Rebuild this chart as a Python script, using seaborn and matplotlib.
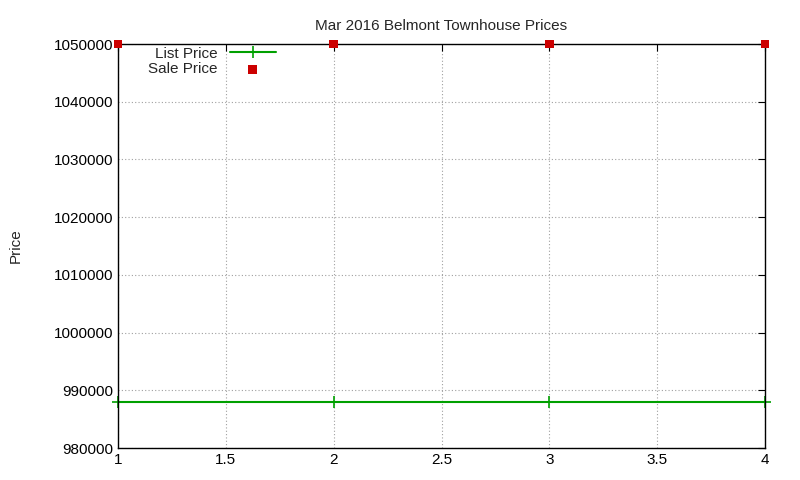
import matplotlib
matplotlib.use("Agg")
import matplotlib.pyplot as plt
import seaborn as sns
import pandas as pd

x_vals = [1, 2, 3, 4]
list_price = [988000, 988000, 988000, 988000]
sale_price = [1050000, 1050000, 1050000, 1050000]

sns.set_style("white")
plt.rcParams['font.family'] = ['Liberation Sans', 'DejaVu Sans']

df = pd.DataFrame({"x": x_vals, "List Price": list_price, "Sale Price": sale_price})

fig = plt.figure(figsize=(8, 4.8), dpi=100)
ax = fig.add_axes([118/800, 1-448/480, (765-118)/800, (448-44)/480])
sns.lineplot(data=df, x="x", y="List Price", ax=ax, color="#00a000", marker="+",
             markersize=8, markeredgewidth=1.2, markeredgecolor="#00a000",
             linewidth=1.5, label="List Price", clip_on=False)
sns.scatterplot(data=df, x="x", y="Sale Price", ax=ax, color="#cc0000", marker="s",
                s=40, edgecolor="none", label="Sale Price", clip_on=False, zorder=5)
ax.set_xlim(1, 4)
ax.set_ylim(980000, 1050000)
ax.set_xticks([1, 1.5, 2, 2.5, 3, 3.5, 4])
ax.set_xticklabels(["1", "1.5", "2", "2.5", "3", "3.5", "4"])
ax.set_yticks(range(980000, 1050001, 10000))
ax.ticklabel_format(axis="y", style="plain", useOffset=False)
ax.grid(True, color="#a0a0a0", linestyle=(0, (1, 2)), linewidth=0.8)
for s in ax.spines.values():
    s.set_color("black"); s.set_linewidth(1)
ax.tick_params(direction="in", length=5, labelsize=11, colors="black", top=True, right=True)
ax.set_xlabel("")
ax.set_ylabel("Price", fontsize=11, labelpad=22)
ax.set_title("Mar 2016 Belmont Townhouse Prices", fontsize=11, pad=10)
leg = ax.legend(loc="upper left", frameon=False, markerfirst=False, fontsize=11,
                bbox_to_anchor=(0.03, 1.02), handlelength=3, borderaxespad=0.3,
                labelspacing=0.1)
fig.savefig("out.png", dpi=100)
